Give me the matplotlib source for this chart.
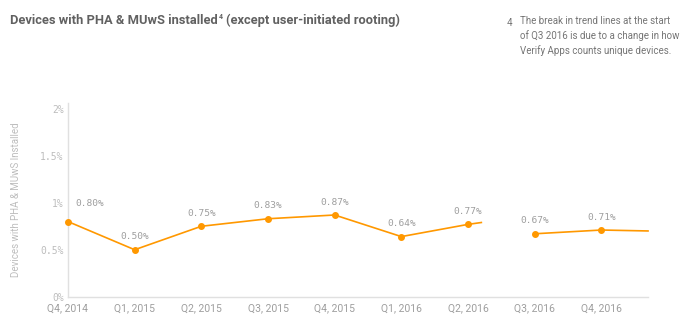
import matplotlib
matplotlib.use("Agg")
import matplotlib.pyplot as plt

quarters = ["Q4, 2014", "Q1, 2015", "Q2, 2015", "Q3, 2015", "Q4, 2015",
            "Q1, 2016", "Q2, 2016", "Q3, 2016", "Q4, 2016"]
values = [0.80, 0.50, 0.75, 0.83, 0.87, 0.64, 0.77, 0.67, 0.71]
labels = ["0.80%", "0.50%", "0.75%", "0.83%", "0.87%", "0.64%", "0.77%", "0.67%", "0.71%"]
# trend continues a bit past the last marker of each segment
seg1_x = [0, 1, 2, 3, 4, 5, 6, 6.2]
seg1_y = [0.80, 0.50, 0.75, 0.83, 0.87, 0.64, 0.77, 0.79]
seg2_x = [7, 8, 8.7]
seg2_y = [0.67, 0.71, 0.70]
yticks = [0, 0.5, 1, 1.5, 2]
ytick_labels = ["0%", "0.5%", "1%", "1.5%", "2%"]

orange = "#FF9800"
grey = "#9E9E9E"

fig = plt.figure(figsize=(6.91, 3.24), dpi=100)
ax = fig.add_axes([0.0984, 0.0843, 0.8394, 0.597])

ax.plot(seg1_x, seg1_y, color=orange, linewidth=1.2, clip_on=False)
ax.plot(seg2_x, seg2_y, color=orange, linewidth=1.2, clip_on=False)
ax.plot(range(len(values)), values, linestyle="none", marker="o", markersize=4,
        color=orange, clip_on=False, zorder=3)

for i, (v, lab) in enumerate(zip(values, labels)):
    if i == 0:
        ax.annotate(lab, (i, v), xytext=(5, 10), textcoords="offset points",
                    ha="left", va="bottom", fontsize=6.8, color=grey, family="DejaVu Sans Mono")
    else:
        ax.annotate(lab, (i, v), xytext=(0, 6), textcoords="offset points",
                    ha="center", va="bottom", fontsize=6.8, color=grey, family="DejaVu Sans Mono")

ax.set_xlim(0, 8.7)
ax.set_ylim(0, 2.06)
ax.set_xticks(range(len(quarters)))
ax.set_xticklabels(quarters, fontsize=7.5, color=grey, family="Roboto")
ax.set_yticks(yticks)
ax.set_yticklabels(ytick_labels, fontsize=7, color="#BDBDBD", family="DejaVu Sans Mono")
ax.tick_params(axis="y", length=0, pad=3)
ax.tick_params(axis="x", length=0, pad=5)

for s in ["top", "right"]:
    ax.spines[s].set_visible(False)
for s in ["left", "bottom"]:
    ax.spines[s].set_color("#E0E0E0")
    ax.spines[s].set_linewidth(1)

fig.text(16 / 691, 1 - 200 / 324, "Devices with PHA & MUwS Installed", rotation=90,
         ha="center", va="center", fontsize=7, color="#BDBDBD", family="Roboto")

# title with a small superscript, pieces placed one after another
renderer = fig.canvas.get_renderer()
t1 = fig.text(10 / 691, 1 - 20 / 324, "Devices with PHA & MUwS installed",
              ha="left", va="center", fontsize=9.3, fontweight="bold", color="#616161", family="Roboto")
x1 = t1.get_window_extent(renderer).x1 / fig.bbox.width
t2 = fig.text(x1 + 1 / 691, 1 - 17 / 324, "4", ha="left", va="center", fontsize=5,
              fontweight="bold", color="#616161", family="Roboto")
x2 = t2.get_window_extent(renderer).x1 / fig.bbox.width
fig.text(x2 + 3 / 691, 1 - 20 / 324, "(except user-initiated rooting)",
         ha="left", va="center", fontsize=9.3, fontweight="bold", color="#616161", family="Roboto")

fig.text(507 / 691, 1 - 23 / 324, "4", ha="left", va="center", fontsize=7, color="#757575", family="Roboto")
fig.text(520 / 691, 1 - 16 / 324,
         "The break in trend lines at the start\nof Q3 2016 is due to a change in how\nVerify Apps counts unique devices.",
         ha="left", va="top", fontsize=7, color="#757575", family="Roboto", linespacing=1.48)

fig.savefig("out.png", dpi=100)
